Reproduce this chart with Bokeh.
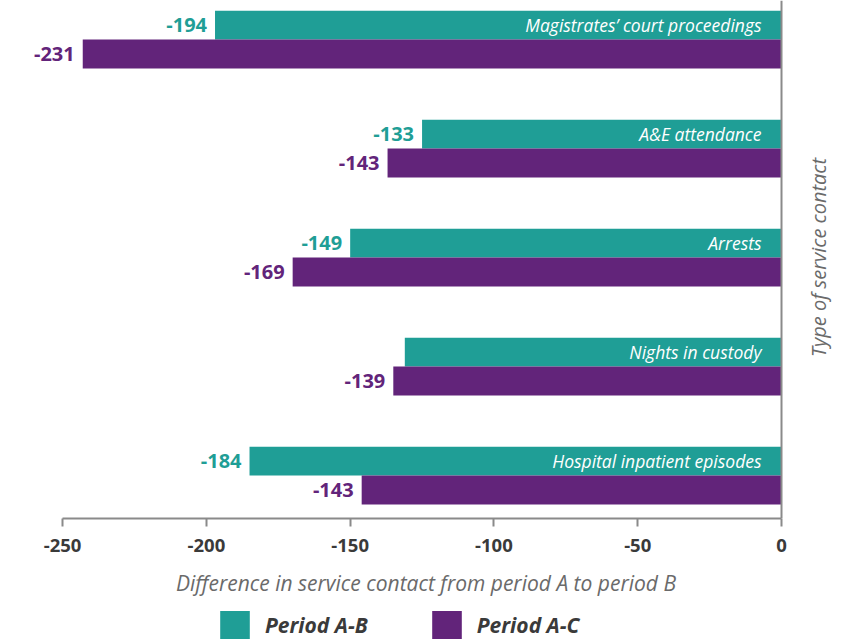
import math
from bokeh.plotting import figure
from bokeh.layouts import column
from bokeh.models import (ColumnDataSource, Legend, LegendItem, LinearAxis,
                          FixedTicker, Range1d, Label, Span)
from bokeh.embed import file_html
from bokeh.resources import INLINE
from bokeh.core.properties import value

categories = ["Magistrates\u2019 court proceedings", "A&E attendance", "Arrests",
              "Nights in custody", "Hospital inpatient episodes"]
period_ab = [-197, -125, -150, -131, -185]
period_ac = [-243, -137, -170, -135, -146]
labels_ab = ["-194", "-133", "-149", "", "-184"]
labels_ac = ["-231", "-143", "-169", "-139", "-143"]
x_ticks = [-250, -200, -150, -100, -50, 0]
x_tick_labels = ["-250", "-200", "-150", "-100", "-50", "0"]
series_names = ["Period A-B", "Period A-C"]

TEAL = "#1f9e96"
PURPLE = "#62247a"
FONT = "Open Sans"

n = len(categories)
pos = [n - 1 - i for i in range(n)]
half = 0.1325

src = ColumnDataSource(dict(
    cat=categories, ab=period_ab, ac=period_ac,
    lab_ab=labels_ab, lab_ac=labels_ac,
    y_ab=[p_ + half for p_ in pos], y_ac=[p_ - half for p_ in pos],
    zero=[0] * n,
))

H1 = 600
p = figure(width=851, height=H1, output_backend="svg", toolbar_location=None,
           x_range=Range1d(-271.6, 24.34), y_range=Range1d(-0.394, 4.358),
           x_axis_location=None, y_axis_location=None,
           min_border_left=0, min_border_right=0, min_border_top=0,
           min_border_bottom=H1 - 518)
p.outline_line_color = None
p.grid.visible = False

p.hbar(y="y_ab", left="ab", right="zero", height=2 * half, source=src,
       fill_color=TEAL, line_color=None)
p.hbar(y="y_ac", left="ac", right="zero", height=2 * half, source=src,
       fill_color=PURPLE, line_color=None)

p.text(x="ab", y="y_ab", text="lab_ab", source=src, text_align="right",
       text_baseline="middle", x_offset=-8, text_color=TEAL,
       text_font=value(FONT), text_font_style="bold", text_font_size="20px")
p.text(x="ac", y="y_ac", text="lab_ac", source=src, text_align="right",
       text_baseline="middle", x_offset=-8, text_color=PURPLE,
       text_font=value(FONT), text_font_style="bold", text_font_size="20px")
p.text(x="zero", y="y_ab", text="cat", source=src, text_align="right",
       text_baseline="middle", x_offset=-20, text_color="white",
       text_font=value(FONT), text_font_style="italic", text_font_size="17.5px")

p.add_layout(Span(location=0, dimension="height", line_color="#8a8a8a",
                  line_width=2))

xa = LinearAxis(ticker=FixedTicker(ticks=x_ticks), bounds=(-250, 0),
                axis_label="Difference in service contact from period A to period B")
xa.major_label_overrides = dict(zip(x_ticks, x_tick_labels))
xa.axis_line_color = "#8a8a8a"
xa.axis_line_width = 2
xa.major_tick_line_color = "#8a8a8a"
xa.major_tick_line_width = 2
xa.major_tick_out = 8
xa.major_tick_in = 0
xa.minor_tick_line_color = None
xa.major_label_text_font = FONT
xa.major_label_text_font_style = "bold"
xa.major_label_text_font_size = "18.5px"
xa.major_label_text_color = "#3a3a3a"
xa.major_label_standoff = 12
xa.axis_label_text_font = FONT
xa.axis_label_text_font_style = "italic"
xa.axis_label_text_font_size = "21px"
xa.axis_label_text_color = "#6a6a6a"
xa.axis_label_standoff = 14
p.add_layout(xa, "below")

ylab = Label(x=0, y=(p.y_range.start + p.y_range.end) / 2, x_offset=37,
             y_offset=2,
             text="Type of service contact", angle=math.pi / 2,
             text_align="center", text_baseline="middle",
             text_font=FONT, text_font_style="italic", text_font_size="20px",
             text_color="#6a6a6a")
p.add_layout(ylab)

# legend strip
H2 = 642 - H1
q = figure(width=851, height=H2, output_backend="svg", toolbar_location=None,
           x_range=Range1d(0, 1), y_range=Range1d(0, 1),
           x_axis_location=None, y_axis_location=None,
           min_border_left=0, min_border_right=0, min_border_top=0,
           min_border_bottom=0)
q.outline_line_color = None
q.grid.visible = False
nan = float("nan")
empty = ColumnDataSource(dict(y=[nan], left=[nan], right=[nan]))
d_ab = q.hbar(y="y", left="left", right="right", height=1, source=empty,
              fill_color=TEAL, line_color=None)
d_ac = q.hbar(y="y", left="left", right="right", height=1, source=empty,
              fill_color=PURPLE, line_color=None)
legend = Legend(items=[LegendItem(label=series_names[0], renderers=[d_ab]),
                       LegendItem(label=series_names[1], renderers=[d_ac])],
                orientation="horizontal", location=(216, 0),
                glyph_width=37, glyph_height=35, label_standoff=12, spacing=60,
                label_text_font=FONT, label_text_font_style="bold italic",
                label_text_font_size="21px", label_text_color="#3a3a3a",
                border_line_color=None, background_fill_alpha=0,
                padding=0, margin=0)
q.add_layout(legend, "center")

layout = column(p, q, spacing=0)
open("out.html", "w").write(file_html(layout, INLINE))
